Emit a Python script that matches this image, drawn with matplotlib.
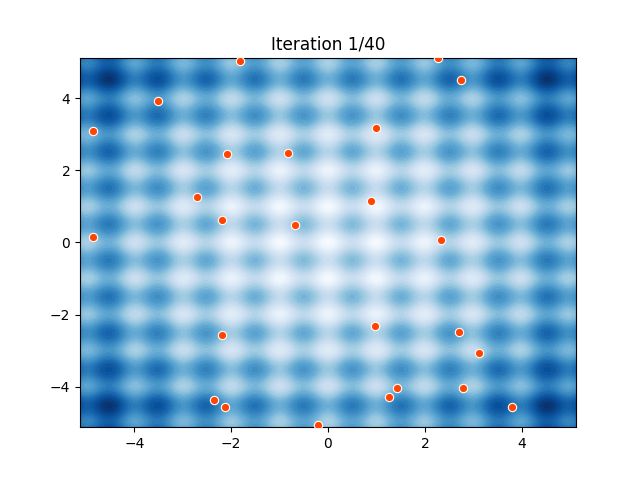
import numpy as np
import matplotlib
matplotlib.use("Agg")
import matplotlib.pyplot as plt

# swarm positions at the first iteration
px = [-1.82, 2.28, 2.75, -3.5, -4.86, 1.0, -2.09, -0.82, -2.7, 0.88, -2.18, -0.68, -4.85, 2.34,
      0.98, -2.19, 2.70, 3.12, 1.43, 1.26, 2.78, -2.35, -2.12, 3.8, -0.2]
py = [5.03, 5.1, 4.5, 3.92, 3.09, 3.16, 2.45, 2.48, 1.25, 1.15, 0.62, 0.48, 0.15, 0.07,
      -2.33, -2.57, -2.48, -3.07, -4.03, -4.28, -4.03, -4.36, -4.57, -4.56, -5.07]
title = "Iteration 1/40"

# Rastrigin surface
lim = 5.12
A = 8
x = np.linspace(-lim, lim, 300)
X, Y = np.meshgrid(x, x)
Z = 2 * A + X**2 + Y**2 - A * (np.cos(2 * np.pi * X) + np.cos(2 * np.pi * Y))

fig, ax = plt.subplots(figsize=(6.4, 4.8), dpi=100)
ax.contourf(X, Y, Z, levels=40, cmap="Blues")
ax.scatter(px, py, c="orangered", edgecolors="white", linewidths=0.8, s=36, zorder=3)
ax.set_xlim(-lim, lim)
ax.set_ylim(-lim, lim)
ax.set_title(title, fontsize=12.2)
fig.savefig("out.png")
